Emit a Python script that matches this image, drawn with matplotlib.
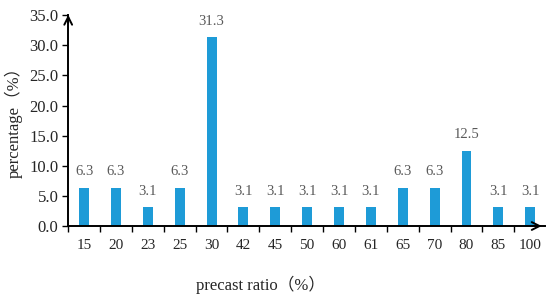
import matplotlib.pyplot as plt
import numpy as np

plt.rcParams['font.family'] = ['Liberation Serif', 'Noto Sans CJK SC']

ratios = ['15', '20', '23', '25', '30', '42', '45', '50', '60', '61', '65', '70', '80', '85', '100']
percent = [6.3, 6.3, 3.1, 6.3, 31.3, 3.1, 3.1, 3.1, 3.1, 3.1, 6.3, 6.3, 12.5, 3.1, 3.1]

fig = plt.figure(figsize=(5.5, 2.97), dpi=100)
ax = fig.add_axes([0.124, 0.239, 0.866, 0.71])

x = np.arange(len(ratios))
ax.bar(x, percent, width=0.31, color='#1E9BD7', zorder=2)
for xi, v in zip(x, percent):
    ax.text(xi, v + 1.6, f"{v:.1f}", ha='center', va='bottom', fontsize=10.5, color='#595959')

ax.set_xlim(-0.5, 14.45)
ax.set_ylim(0, 35)
ax.set_yticks(np.arange(0, 35.1, 5))
ax.set_yticklabels([f"{t:.1f}" for t in np.arange(0, 35.1, 5)])
ax.set_xticks(x)
ax.set_xticklabels(ratios)
ax.set_xticks(np.arange(-0.5, 14.5, 1), minor=True)
ax.tick_params(axis='x', which='major', length=0, pad=9, labelsize=11, labelcolor='#262626')
ax.tick_params(axis='x', which='minor', length=4, width=1, direction='out')
ax.tick_params(axis='y', length=4, width=1, labelsize=12, labelcolor='#262626', pad=3)

for s in ['top', 'right']:
    ax.spines[s].set_visible(False)
for s in ['left', 'bottom']:
    ax.spines[s].set_linewidth(1.4)

# arrow heads
ax.annotate('', xy=(1.0, 0), xytext=(0.97, 0), xycoords='axes fraction',
            arrowprops=dict(arrowstyle='->', lw=1.4, color='black', mutation_scale=14))
ax.annotate('', xy=(0, 1.015), xytext=(0, 0.95), xycoords='axes fraction',
            arrowprops=dict(arrowstyle='->', lw=1.4, color='black', mutation_scale=14))

ax.set_xlabel('precast ratio（%）', fontsize=12, color='#262626')
ax.xaxis.set_label_coords(0.403, -0.235)
ax.set_ylabel('percentage（%）', fontsize=12, color='#262626')
ax.yaxis.set_label_coords(-0.095, 0.51)

plt.savefig('out.png', dpi=100)
